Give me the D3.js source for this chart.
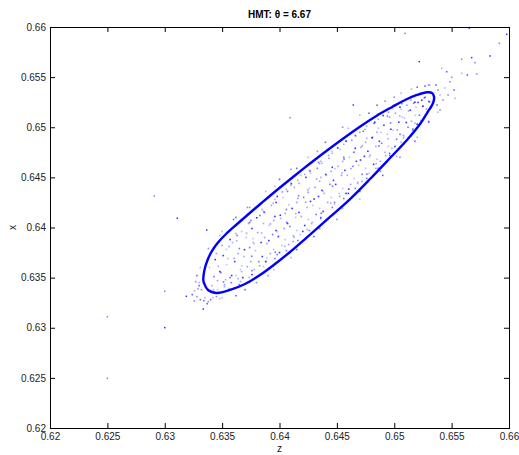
<!DOCTYPE html>
<html>
<head>
<meta charset="utf-8">
<script src="https://cdn.jsdelivr.net/npm/d3@7"></script>
<style>
  body { margin: 0; background: #fff; }
  svg { display: block; font-family: "Liberation Sans", Arial, sans-serif; }
  .tick text { font-size: 10px; fill: #222; }
</style>
</head>
<body>
<svg id="chart" width="519" height="455"></svg>
<script>
const title = 'HMT: \u03b8 = 6.67';
const xTicks = [0.62, 0.625, 0.63, 0.635, 0.64, 0.645, 0.65, 0.655, 0.66];
const yTicks = [0.62, 0.625, 0.63, 0.635, 0.64, 0.645, 0.65, 0.655, 0.66];

// main closed orbit (z, x)
const ringZ = [0.63336, 0.63346, 0.63373, 0.63412, 0.63464, 0.63534, 0.63621, 0.63726, 0.63848, 0.63978,
  0.64118, 0.64266, 0.64414, 0.64562, 0.64710, 0.64850, 0.64981, 0.65094, 0.65198, 0.65286, 0.65329,
  0.65347, 0.65338,
  0.65286, 0.65225, 0.65111, 0.64963, 0.64789, 0.64615, 0.64440, 0.64222, 0.64092, 0.63961, 0.63830,
  0.63699, 0.63569, 0.63455, 0.63377, 0.63342];
const ringX = [0.63476, 0.63576, 0.63676, 0.63766, 0.63850, 0.63935, 0.64025, 0.64130, 0.64249, 0.64374,
  0.64504, 0.64638, 0.64768, 0.64893, 0.65012, 0.65117, 0.65202, 0.65272, 0.65322, 0.65349, 0.65342,
  0.65302, 0.65242,
  0.65142, 0.65032, 0.64873, 0.64693, 0.64484, 0.64284, 0.64105, 0.63885, 0.63756, 0.63636, 0.63526,
  0.63436, 0.63377, 0.63347, 0.63377, 0.63446];

// points inside the orbit
const innerPts = [
  [0.6341,0.6342],[0.6343,0.6351],[0.6339,0.6360],[0.6344,0.6368],[0.6346,0.6347],
  [0.6352,0.6341],[0.6349,0.6355],[0.6354,0.6363],[0.6351,0.6372],[0.6356,0.6381],[0.6353,0.6348],
  [0.6358,0.6345],[0.6362,0.6352],[0.6361,0.6366],[0.6364,0.6374],[0.6359,0.6385],[0.6363,0.6392],[0.6366,0.6358],
  [0.6368,0.6350],[0.6372,0.6361],[0.6369,0.6371],[0.6374,0.6380],[0.6371,0.6390],[0.6376,0.6399],[0.6373,0.6404],
  [0.6378,0.6358],[0.6382,0.6366],[0.6379,0.6377],[0.6384,0.6385],[0.6381,0.6395],[0.6386,0.6404],[0.6383,0.6412],[0.6377,0.6389],
  [0.6388,0.6366],[0.6392,0.6374],[0.6389,0.6384],[0.6394,0.6393],[0.6391,0.6402],[0.6396,0.6411],[0.6393,0.6422],[0.6387,0.6415],
  [0.6398,0.6373],[0.6402,0.6382],[0.6399,0.6391],[0.6404,0.6399],[0.6401,0.6409],[0.6406,0.6418],[0.6403,0.6430],[0.6397,0.6425],
  [0.6408,0.6383],[0.6412,0.6392],[0.6409,0.6401],[0.6414,0.6410],[0.6411,0.6419],[0.6416,0.6429],[0.6413,0.6440],[0.6407,0.6436],
  [0.6418,0.6393],[0.6422,0.6402],[0.6419,0.6411],[0.6424,0.6420],[0.6421,0.6430],[0.6426,0.6439],[0.6423,0.6450],[0.6417,0.6444],
  [0.6428,0.6404],[0.6432,0.6413],[0.6429,0.6422],[0.6434,0.6431],[0.6431,0.6440],[0.6436,0.6450],[0.6433,0.6459],[0.6427,0.6454],
  [0.6438,0.6416],[0.6442,0.6425],[0.6439,0.6434],[0.6444,0.6443],[0.6441,0.6452],[0.6446,0.6460],[0.6443,0.6469],[0.6437,0.6464],
  [0.6448,0.6425],[0.6452,0.6434],[0.6449,0.6443],[0.6454,0.6452],[0.6451,0.6461],[0.6456,0.6470],[0.6453,0.6478],
  [0.6458,0.6434],[0.6462,0.6443],[0.6459,0.6452],[0.6464,0.6461],[0.6461,0.6470],[0.6466,0.6479],[0.6463,0.6487],
  [0.6468,0.6444],[0.6472,0.6453],[0.6469,0.6462],[0.6474,0.6471],[0.6471,0.6480],[0.6476,0.6489],[0.6473,0.6496],
  [0.6478,0.6454],[0.6482,0.6463],[0.6479,0.6472],[0.6484,0.6481],[0.6481,0.6490],[0.6486,0.6499],[0.6483,0.6505],
  [0.6488,0.6466],[0.6492,0.6475],[0.6489,0.6484],[0.6494,0.6493],[0.6491,0.6502],[0.6496,0.6510],
  [0.6498,0.6479],[0.6502,0.6488],[0.6499,0.6497],[0.6504,0.6505],[0.6501,0.6514],
  [0.6508,0.6492],[0.6512,0.6500],[0.6509,0.6509],[0.6514,0.6517],[0.6511,0.6522],
  [0.6518,0.6504],[0.6522,0.6512],[0.6519,0.6520],[0.6524,0.6527],
  [0.6528,0.6518],[0.6531,0.6525],[0.6527,0.6530],
  [0.6346,0.6338],[0.6348,0.6356],[0.6345,0.6374],
  [0.6356,0.6339],[0.6357,0.6350],[0.6355,0.6369],[0.6357,0.6388],
  [0.6366,0.6346],[0.6367,0.6356],[0.6365,0.6379],[0.6367,0.6396],
  [0.6376,0.6353],[0.6375,0.6366],[0.6377,0.6385],[0.6375,0.6407],
  [0.6386,0.6361],[0.6385,0.6371],[0.6387,0.6390],[0.6385,0.6418],
  [0.6396,0.6369],[0.6395,0.6378],[0.6397,0.6397],[0.6395,0.6407],[0.6396,0.6428],
  [0.6406,0.6377],[0.6405,0.6388],[0.6407,0.6404],[0.6405,0.6414],[0.6406,0.6438],
  [0.6416,0.6387],[0.6415,0.6397],[0.6417,0.6415],[0.6415,0.6425],[0.6416,0.6447],
  [0.6426,0.6397],[0.6425,0.6408],[0.6427,0.6426],[0.6425,0.6435],[0.6426,0.6457],
  [0.6436,0.6409],[0.6435,0.6419],[0.6437,0.6437],[0.6435,0.6446],[0.6436,0.6466],
  [0.6446,0.6420],[0.6445,0.6430],[0.6447,0.6447],[0.6445,0.6456],[0.6446,0.6474],
  [0.6456,0.6429],[0.6455,0.6439],[0.6457,0.6457],[0.6455,0.6466],[0.6456,0.6483],
  [0.6466,0.6439],[0.6465,0.6449],[0.6467,0.6466],[0.6465,0.6475],[0.6466,0.6492],
  [0.6476,0.6449],[0.6475,0.6459],[0.6477,0.6476],[0.6475,0.6485],[0.6476,0.6501],
  [0.6486,0.6459],[0.6485,0.6468],[0.6487,0.6486],[0.6485,0.6495],[0.6486,0.6508],
  [0.6496,0.6472],[0.6495,0.6481],[0.6497,0.6498],[0.6495,0.6515],
  [0.6506,0.6485],[0.6505,0.6493],[0.6507,0.6510],[0.6505,0.6520],
  [0.6516,0.6497],[0.6515,0.6506],[0.6517,0.6524],
  [0.6526,0.6510],[0.6525,0.6521],
  [0.63423,0.63376],[0.63467,0.63612],[0.63512,0.63457],[0.63538,0.63781],[0.63583,0.63521],[0.63604,0.63692],
  [0.63627,0.63868],[0.63648,0.63431],[0.63672,0.63618],[0.63695,0.63779],[0.63713,0.63942],[0.63736,0.63502],
  [0.63758,0.63713],[0.63781,0.63836],[0.63802,0.64097],[0.63827,0.63618],[0.63844,0.63944],[0.63866,0.64153],
  [0.63889,0.63697],[0.63907,0.63869],[0.63921,0.64036],[0.63945,0.64243],[0.63963,0.63753],[0.63981,0.63956],
  [0.64007,0.64122],[0.64024,0.64355],[0.64046,0.63812],[0.64063,0.64051],[0.64081,0.64227],[0.64103,0.64438],
  [0.64127,0.63904],[0.64142,0.64138],[0.64166,0.64317],[0.64184,0.64521],[0.64203,0.63961],[0.64228,0.64253],
  [0.64247,0.64373],[0.64268,0.64562],[0.64286,0.64053],[0.64302,0.64284],[0.64323,0.64483],[0.64348,0.64637],
  [0.64364,0.64142],[0.64381,0.64361],[0.64403,0.64529],[0.64428,0.64718],[0.64447,0.64243],[0.64462,0.64412],
  [0.64483,0.64586],[0.64507,0.64793],[0.64524,0.64311],[0.64545,0.64544],[0.64563,0.64682],[0.64581,0.64862],
  [0.64603,0.64382],[0.64622,0.64587],[0.64646,0.64751],[0.64663,0.64914],[0.64684,0.64453],[0.64706,0.64673],
  [0.64722,0.64816],[0.64745,0.64978],[0.64761,0.64533],[0.64783,0.64702],[0.64807,0.64894],[0.64828,0.65037],
  [0.64843,0.64637],[0.64866,0.64813],[0.64884,0.64951],[0.64903,0.65117],[0.64925,0.64717],[0.64947,0.64886],
  [0.64968,0.65043],[0.64987,0.65183],[0.65006,0.64808],[0.65027,0.64972],[0.65048,0.65112],[0.65066,0.65236],
  [0.65083,0.64903],[0.65105,0.65047],[0.65124,0.65163],[0.65146,0.65269],[0.65163,0.64983],[0.65184,0.65118],
  [0.65207,0.65247],[0.65233,0.65066],[0.65248,0.65208],[0.65262,0.65293],[0.65284,0.65154],[0.65302,0.65257],
  [0.6350,0.6382],[0.6362,0.6394],[0.6374,0.6405],[0.6386,0.6416],[0.6398,0.6431],[0.6410,0.6442],[0.6422,0.6453],
  [0.6434,0.6465],[0.6446,0.6476],[0.6458,0.6486],[0.6470,0.6495],[0.6482,0.6504],[0.6494,0.6511],[0.6506,0.6518],
  [0.6518,0.6525],
  [0.6352,0.6343],[0.6364,0.6349],[0.6376,0.6357],[0.6388,0.6366],[0.6400,0.6375],[0.6412,0.6386],[0.6424,0.6398],
  [0.6436,0.6410],[0.6448,0.6423],[0.6460,0.6434],[0.6472,0.6446],[0.6484,0.6459],[0.6496,0.6474],[0.6508,0.6489],
  [0.6520,0.6503]
];

// scattered points just outside the orbit
const haloPts = [
  [0.6330,0.6345],[0.6328,0.6352],[0.6332,0.6338],[0.6335,0.6330],[0.6340,0.6328],[0.6345,0.6331],
  [0.6331,0.6360],[0.6334,0.6327],[0.6329,0.6339],[0.6350,0.6330],[0.6337,0.6324],[0.6327,0.6346],
  [0.6348,0.6392],[0.6360,0.6408],[0.6372,0.6420],[0.6388,0.6436],[0.6400,0.6448],[0.6410,0.6458],
  [0.6425,0.6470],[0.6440,0.6485],[0.6455,0.6500],[0.6470,0.6512],[0.6485,0.6522],[0.6500,0.6530],
  [0.6515,0.6538],
  [0.6370,0.6338],[0.6390,0.6352],[0.6410,0.6370],[0.6430,0.6391],[0.6450,0.6408],[0.6470,0.6428],
  [0.6490,0.6452],[0.6505,0.6470],[0.6520,0.6490],[0.6530,0.6505],
  [0.63380,0.63790],[0.63500,0.63960],[0.63620,0.64100],[0.63740,0.64200],[0.63960,0.64410],[0.64150,0.64590],
  [0.64330,0.64760],[0.64600,0.64990],[0.64780,0.65140],[0.64920,0.65260],[0.65060,0.65340],[0.65200,0.65400],
  [0.65300,0.65420],
  [0.63480,0.63290],[0.63620,0.63320],[0.63800,0.63450],[0.63950,0.63580],[0.64150,0.63780],[0.64350,0.63990],
  [0.64550,0.64190],[0.64700,0.64360],[0.64880,0.64560],[0.65020,0.64710],[0.65180,0.64860],[0.65300,0.65060],
  [0.65380,0.65150],
  [0.63300,0.63420],[0.63280,0.63310],[0.63260,0.63370],[0.63310,0.63280],[0.63380,0.63260],[0.63420,0.63300],
  [0.63240,0.63330],
  [0.65381,0.65372],[0.65399,0.65322],[0.65364,0.65421],[0.65425,0.65272],[0.65442,0.65392],
  [0.65373,0.65222],[0.65399,0.65172],[0.65312,0.65421],[0.65268,0.65411],[0.65469,0.65322],
  [0.65530,0.65289],[0.65521,0.65372],[0.65486,0.65454],[0.65414,0.65588],[0.65457,0.65554],
  [0.65501,0.65498],[0.65588,0.65538],[0.65637,0.65521],[0.65719,0.65531]
];

// isolated points far from the orbit
const strayPts = [
  [0.65218,0.65654],[0.65588,0.65678],[0.65675,0.65694],[0.65704,0.65644],[0.65835,0.65711],
  [0.65916,0.65837],[0.65654,0.65987],[0.65094,0.65937],[0.65980,0.65927],
  [0.64092,0.65095],[0.64643,0.65222],
  [0.62909,0.64314],[0.63109,0.64092],[0.63000,0.63364],[0.63188,0.63314],[0.63258,0.63267],
  [0.63336,0.63187],[0.62500,0.63110],[0.63000,0.63001],[0.62500,0.62496],[0.63366,0.63975]
];

const svg = d3.select('#chart');
const mLeft = 50, mRight = 509, mTop = 27, mBottom = 428;

const x = d3.scaleLinear().domain([0.62, 0.66]).range([mLeft, mRight]);
const y = d3.scaleLinear().domain([0.62, 0.66]).range([mBottom, mTop]);

const blue = '#0000ff';

// dots
const dot = (g, pts, size, op) => g.selectAll('rect')
  .data(pts)
  .enter()
  .append('rect')
  .attr('x', d => x(d[0]) - size / 2)
  .attr('y', d => y(d[1]) - size / 2)
  .attr('width', size)
  .attr('height', size)
  .attr('fill', blue)
  .attr('opacity', (d, i) => op[i % op.length]);

dot(svg.append('g'), innerPts, 1.6, [0.35, 0.55, 0.25, 0.8, 0.4]);
dot(svg.append('g'), haloPts, 1.6, [0.3, 0.6, 0.45]);
dot(svg.append('g'), strayPts, 1.5, [0.8, 0.5]);

// orbit
const ring = ringZ.map((z, i) => [z, ringX[i]]);
svg.append('path')
  .datum(ring)
  .attr('fill', 'none')
  .attr('stroke', blue)
  .attr('stroke-width', 2.4)
  .attr('d', d3.line().x(d => x(d[0])).y(d => y(d[1])).curve(d3.curveCatmullRomClosed));

// axes, ticks inside like matlab
svg.append('g')
  .attr('transform', `translate(0,${mBottom})`)
  .call(d3.axisBottom(x).tickValues(xTicks).tickFormat(d3.format('')).tickSize(-5).tickPadding(5))
  .call(g => g.select('.domain').remove());
svg.append('g')
  .attr('transform', `translate(${mLeft},0)`)
  .call(d3.axisLeft(y).tickValues(yTicks).tickFormat(d3.format('')).tickSize(-5).tickPadding(4))
  .call(g => g.select('.domain').remove());
svg.append('g')
  .attr('transform', `translate(0,${mTop})`)
  .call(d3.axisTop(x).tickValues(xTicks).tickFormat('').tickSize(-5))
  .call(g => g.select('.domain').remove());
svg.append('g')
  .attr('transform', `translate(${mRight},0)`)
  .call(d3.axisRight(y).tickValues(yTicks).tickFormat('').tickSize(-5))
  .call(g => g.select('.domain').remove());

svg.selectAll('.tick line').attr('stroke', '#000');

svg.append('rect')
  .attr('x', mLeft + 0.5)
  .attr('y', mTop + 0.5)
  .attr('width', mRight - mLeft)
  .attr('height', mBottom - mTop)
  .attr('fill', 'none')
  .attr('stroke', '#000')
  .attr('stroke-width', 1);

svg.append('text')
  .attr('x', (mLeft + mRight) / 2)
  .attr('y', 18)
  .attr('text-anchor', 'middle')
  .attr('font-size', 10)
  .attr('font-weight', 'bold')
  .text(title);

svg.append('text')
  .attr('x', (mLeft + mRight) / 2)
  .attr('y', 452)
  .attr('text-anchor', 'middle')
  .attr('font-size', 10)
  .attr('fill', '#222')
  .text('z');

svg.append('text')
  .attr('transform', `translate(16,${(mTop + mBottom) / 2}) rotate(-90)`)
  .attr('text-anchor', 'middle')
  .attr('font-size', 10)
  .attr('fill', '#222')
  .text('x');
</script>
</body>
</html>
